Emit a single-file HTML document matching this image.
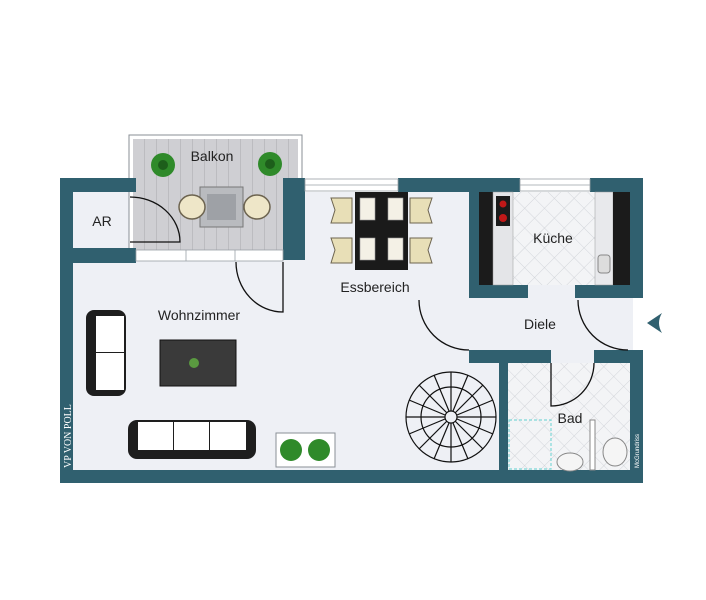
<!DOCTYPE html>
<html><head><meta charset="utf-8"><style>
html,body{margin:0;padding:0;background:#fff;width:706px;height:600px;overflow:hidden}
svg{display:block}
text{font-family:"Liberation Sans",sans-serif;fill:#222}
</style></head><body>
<svg width="706" height="600" viewBox="0 0 706 600" xmlns="http://www.w3.org/2000/svg">
<defs>
<pattern id="tile" width="14" height="14" patternUnits="userSpaceOnUse" patternTransform="rotate(45)">
<rect width="14" height="14" fill="#f3f4f6"/>
<path d="M0 0H14M0 0V14" stroke="#c9ccd2" stroke-width="0.8"/>
</pattern>
<pattern id="wood" width="12" height="10" patternUnits="userSpaceOnUse">
<rect width="12" height="10" fill="#cfcfd3"/>
<path d="M0 0V10" stroke="#a9a9ae" stroke-width="1"/>
</pattern>
</defs>
<!-- floors -->
<rect x="73" y="192" width="560" height="280" fill="#eef0f5"/>
<rect x="479" y="192" width="151" height="93" fill="url(#tile)"/>
<rect x="508" y="363" width="122" height="107" fill="url(#tile)"/>
<!-- balcony -->
<rect x="129" y="135" width="173" height="115" fill="#fff" stroke="#8a8f96" stroke-width="1"/>
<rect x="133" y="139" width="165" height="111" fill="url(#wood)"/>
<!-- walls -->
<g fill="#30606f">
<rect x="60" y="178" width="13" height="305"/>
<rect x="60" y="178" width="76" height="14"/>
<rect x="60" y="248" width="76" height="15"/>
<rect x="60" y="470" width="583" height="13"/>
<rect x="283" y="178" width="22" height="82"/>
<rect x="398" y="178" width="122" height="14"/>
<rect x="590" y="178" width="53" height="14"/>
<rect x="469" y="178" width="10" height="120"/>
<rect x="630" y="178" width="13" height="120"/>
<rect x="469" y="285" width="59" height="13"/>
<rect x="575" y="285" width="68" height="13"/>
<rect x="630" y="350" width="13" height="133"/>
<rect x="469" y="350" width="82" height="13"/>
<rect x="594" y="350" width="49" height="13"/>
<rect x="499" y="350" width="9" height="120"/>
</g>
<!-- windows -->
<g fill="#fff" stroke="#9aa0a6" stroke-width="0.8">
<rect x="305" y="179" width="93" height="12"/>
<line x1="305" y1="185" x2="398" y2="185"/>
<rect x="520" y="179" width="70" height="12"/>
<line x1="520" y1="185" x2="590" y2="185"/>
<rect x="136" y="250" width="147" height="11"/>
<line x1="186" y1="250" x2="186" y2="261"/><line x1="235" y1="250" x2="235" y2="261"/>
</g>
<!-- doors -->
<g fill="none" stroke="#111" stroke-width="1.3">
<path d="M130 197 A50 45 0 0 1 180 242 H130"/>
<path d="M236 262 A47 50 0 0 0 283 312 V262"/>
<path d="M419 300 A50 50 0 0 0 469 350"/>
<path d="M578 300 A50 50 0 0 0 628 350"/>
<path d="M551 363 V406 A43 43 0 0 0 594 363"/>
</g>
<!-- entrance arrow -->
<path d="M647 323 L662 313 Q656 323 662 333 Z" fill="#30606f"/>
<!-- balcony furniture -->
<rect x="200" y="187" width="43" height="40" fill="#b9bbbf" stroke="#777" stroke-width="1"/>
<rect x="207" y="194" width="29" height="26" fill="#9ea1a6"/>
<ellipse cx="192" cy="207" rx="13" ry="12" fill="#eee6c8" stroke="#6d6450" stroke-width="1.5"/>
<ellipse cx="257" cy="207" rx="13" ry="12" fill="#eee6c8" stroke="#6d6450" stroke-width="1.5"/>
<g fill="#2f8a2a"><circle cx="163" cy="165" r="12"/><circle cx="270" cy="164" r="12"/></g>
<g fill="#1d5e1b"><circle cx="163" cy="165" r="5"/><circle cx="270" cy="164" r="5"/></g>
<!-- dining -->
<rect x="355" y="192" width="53" height="78" fill="#1a1a1a"/>
<g fill="#f4f1e6" stroke="#999" stroke-width="0.6">
<rect x="360" y="198" width="15" height="22"/><rect x="388" y="198" width="15" height="22"/>
<rect x="360" y="238" width="15" height="22"/><rect x="388" y="238" width="15" height="22"/>
</g>
<g fill="#e8dfb7" stroke="#6d6450" stroke-width="1">
<path d="M331 198 H352 V223 H331 L335 210Z"/><path d="M331 238 H352 V263 H331 L335 250Z"/>
<path d="M432 198 H410 V223 H432 L428 210Z"/><path d="M432 238 H410 V263 H432 L428 250Z"/>
</g>
<!-- living room furniture -->
<rect x="86" y="310" width="40" height="86" rx="8" fill="#1e1e1e"/>
<rect x="96" y="316" width="28" height="36" fill="#fff"/><rect x="96" y="353" width="28" height="37" fill="#fff"/>
<rect x="160" y="340" width="76" height="46" fill="#3a3a3a" stroke="#111"/>
<circle cx="194" cy="363" r="5" fill="#5a9a40"/>
<rect x="128" y="420" width="128" height="39" rx="9" fill="#1e1e1e"/>
<rect x="138" y="422" width="35" height="28" fill="#fff"/><rect x="174" y="422" width="35" height="28" fill="#fff"/><rect x="210" y="422" width="36" height="28" fill="#fff"/>
<rect x="276" y="433" width="59" height="34" fill="#fff" stroke="#8a8f96"/>
<g fill="#2f8a2a"><circle cx="291" cy="450" r="11"/><circle cx="319" cy="450" r="11"/></g>
<!-- stairs -->
<g fill="none" stroke="#111" stroke-width="1.2">
<circle cx="451" cy="417" r="45"/><circle cx="451" cy="417" r="30"/><circle cx="451" cy="417" r="6"/>
<g id="sp">
<line x1="451" y1="411" x2="451" y2="372"/><line x1="457" y1="417" x2="496" y2="417"/>
<line x1="451" y1="423" x2="451" y2="462"/><line x1="445" y1="417" x2="406" y2="417"/>
<line x1="455" y1="413" x2="483" y2="385"/><line x1="455" y1="421" x2="483" y2="449"/>
<line x1="447" y1="421" x2="419" y2="449"/><line x1="447" y1="413" x2="419" y2="385"/>
<line x1="453" y1="411" x2="468" y2="375"/><line x1="457" y1="419" x2="493" y2="434"/>
<line x1="449" y1="423" x2="434" y2="459"/><line x1="445" y1="415" x2="409" y2="400"/>
<line x1="457" y1="415" x2="493" y2="400"/><line x1="453" y1="423" x2="468" y2="459"/>
<line x1="445" y1="419" x2="409" y2="434"/><line x1="449" y1="411" x2="434" y2="375"/>
</g>
</g>
<!-- kitchen -->
<rect x="479" y="192" width="14" height="93" fill="#1b1b1b"/>
<rect x="493" y="192" width="20" height="93" fill="#e4e5e8" stroke="#999" stroke-width="0.5"/>
<rect x="496" y="196" width="14" height="30" fill="#1b1b1b"/>
<circle cx="503" cy="204" r="3.5" fill="#c01818"/><circle cx="503" cy="218" r="4" fill="#c01818"/>
<rect x="595" y="192" width="18" height="93" fill="#e8e9ec" stroke="#999" stroke-width="0.5"/>
<rect x="598" y="255" width="12" height="18" rx="3" fill="#ddd" stroke="#888"/>
<rect x="613" y="192" width="17" height="93" fill="#1b1b1b"/>
<!-- bath -->
<rect x="509" y="420" width="42" height="49" fill="none" stroke="#7fd8d8" stroke-width="1.2" stroke-dasharray="3,2"/>
<ellipse cx="570" cy="462" rx="13" ry="9" fill="#f5f5f5" stroke="#888"/>
<rect x="590" y="420" width="5" height="50" fill="#fff" stroke="#888"/>
<ellipse cx="615" cy="452" rx="12" ry="14" fill="#f5f5f5" stroke="#888"/>
<!-- labels -->
<text x="212" y="161" font-size="14" text-anchor="middle">Balkon</text>
<text x="102" y="226" font-size="14" text-anchor="middle">AR</text>
<text x="199" y="320" font-size="14" text-anchor="middle">Wohnzimmer</text>
<text x="375" y="292" font-size="14" text-anchor="middle">Essbereich</text>
<text x="553" y="243" font-size="14" text-anchor="middle">Küche</text>
<text x="540" y="329" font-size="14" text-anchor="middle">Diele</text>
<text x="570" y="423" font-size="14" text-anchor="middle">Bad</text>
<text transform="translate(71,468) rotate(-90)" font-size="10" style="fill:#fff;font-family:'Liberation Serif',serif">VP VON POLL</text>
<text transform="translate(639,468) rotate(-90)" font-size="6" style="fill:#fff">McGrundriss</text>
</svg>
</body></html>
